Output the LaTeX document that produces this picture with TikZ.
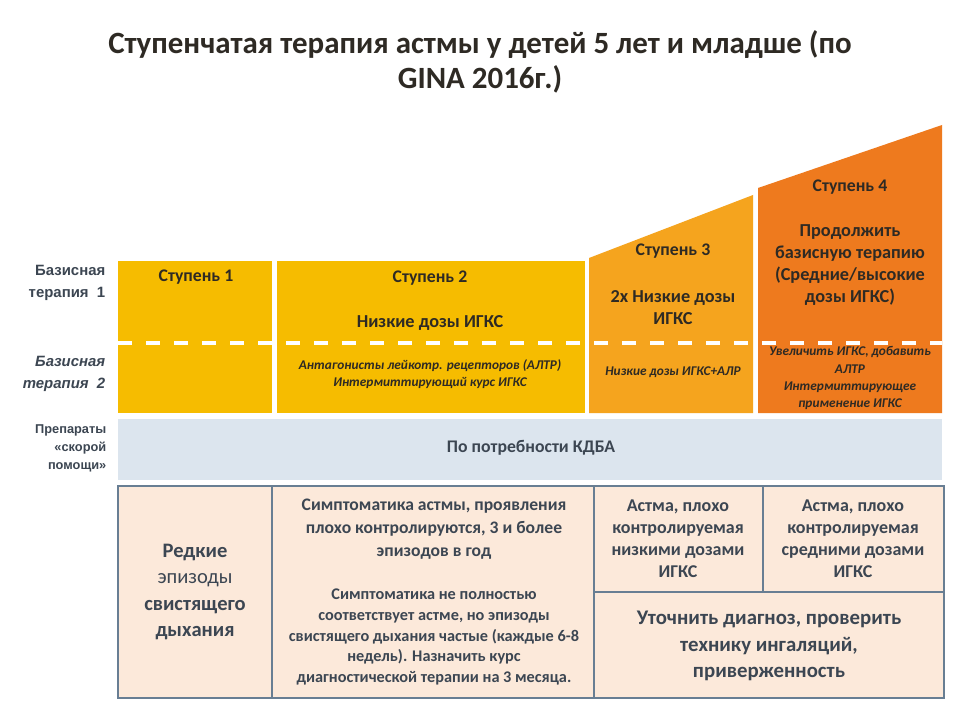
\documentclass[tikz,border=0pt]{standalone}
\usepackage{fontspec}
\setmainfont{Carlito}
\newfontfamily\sidefont{Liberation Sans}
\usetikzlibrary{positioning}

\definecolor{stepyellow}{HTML}{F6BC00}
\definecolor{steporange}{HTML}{F5A41E}
\definecolor{stepdark}{HTML}{EE7A1E}
\definecolor{bandblue}{HTML}{DCE5EE}
\definecolor{cellfill}{HTML}{FCE9DA}
\definecolor{framegray}{HTML}{687E93}
\definecolor{inktext}{HTML}{2E2A24}
\definecolor{slatetext}{HTML}{3C4652}

\begin{document}
\begin{tikzpicture}[
    x=0.75pt, y=-0.75pt,
    title/.style={font=\bfseries\fontsize{23.2}{26}\selectfont, text=inktext},
    sidelabel/.style={anchor=east, align=right, text=slatetext, font=\sidefont\bfseries\fontsize{11.2}{16.5}\selectfont},
    steplabel/.style={font=\bfseries\fontsize{13.3}{15}\selectfont, text=inktext},
    dose/.style={align=center, font=\bfseries\fontsize{13.7}{16.5}\selectfont, text=inktext},
    addon/.style={align=center, font=\bfseries\itshape\fontsize{10}{12.8}\selectfont, text=inktext},
    celltext/.style={align=center, text=slatetext, font=\bfseries\fontsize{13.2}{17.2}\selectfont},
    smalltext/.style={align=center, text=slatetext, font=\bfseries\fontsize{12.2}{15.7}\selectfont},
    dashline/.style={white, line width=3pt, dash pattern=on 10.5pt off 10.5pt},
    frame/.style={draw=framegray, line width=1.2pt},
]
\useasboundingbox (0,0) rectangle (960,720);
\fill[white] (0,0) rectangle (960,720);

% Title
\node[title] (title1) at (480,45) {Ступенчатая терапия астмы у детей 5 лет и младше (по};
\node[title] (title2) at (480,79) {GINA 2016г.)};

% Step blocks
\fill[stepyellow] (118,261) rectangle (272,413);
\fill[stepyellow] (277,261) rectangle (585,413);
\fill[steporange] (589,258) -- (753,195) -- (753,413) -- (589,413) -- cycle;
\fill[stepdark] (758,188) -- (942,125) -- (942,413) -- (758,413) -- cycle;
\draw[dashline] (118,343) -- (942,343);

% Reliever band
\fill[bandblue] (118,419) rectangle (942,480);
\node[text=slatetext, font=\bfseries\fontsize{13.3}{15}\selectfont] (reliever) at (531,448) {По потребности КДБА};

% Row labels
\node[sidelabel] (base1) at (110,283) {Базисная\\терапия \ 1};
\node[sidelabel, font=\sidefont\bfseries\itshape\fontsize{11.2}{16.5}\selectfont] (base2) at (110,374) {Базисная\\терапия \ 2};
\node[sidelabel, font=\sidefont\bfseries\fontsize{9.6}{13.5}\selectfont] (relief) at (111,448) {Препараты\\«скорой\\помощи»};

% Step 1
\node[steplabel] (step1) at (196,277) {Ступень 1};

% Step 2
\node[steplabel] (step2) at (430,278) {Ступень 2};
\node[dose] (dose2) at (430,323) {Низкие дозы ИГКС};
\node[addon] (add2) at (430,374) {Антагонисты лейкотр. рецепторов (АЛТР)\\Интермиттирующий курс ИГКС};

% Step 3
\node[steplabel] (step3) at (673,251) {Ступень 3};
\node[dose] (dose3) at (673,308) {2x Низкие дозы\\ИГКС};
\node[addon] (add3) at (673,372) {Низкие дозы ИГКС+АЛР};

% Step 4
\node[steplabel] (step4) at (850,187) {Ступень 4};
\node[dose] (dose4) at (850,265) {Продолжить\\базисную терапию\\(Средние/высокие\\дозы ИГКС)};
\node[addon] (add4) at (850,378) {Увеличить ИГКС, добавить\\АЛТР\\Интермиттирующее\\применение ИГКС};

% Bottom table
\fill[cellfill] (118,486) rectangle (944,698);
\draw[frame] (118,486) rectangle (944,698);
\draw[frame] (272,486) -- (272,698);
\draw[frame] (594,486) -- (594,698);
\draw[frame] (763,486) -- (763,592);
\draw[frame] (594,592) -- (944,592);

\node[celltext, font=\fontsize{15.4}{19.7}\selectfont] (rare) at (195,592) {\textbf{Редкие}\\эпизоды\\\textbf{свистящего}\\\textbf{дыхания}};
\node[celltext] (uncontrolled) at (434,529) {Симптоматика астмы, проявления\\плохо контролируются, 3 и более\\эпизодов в год};
\node[smalltext] (trial) at (434,637) {Симптоматика не полностью\\соответствует астме, но эпизоды\\свистящего дыхания частые (каждые 6-8\\недель). Назначить курс\\диагностической терапии на 3 месяца.};
\node[celltext, font=\bfseries\fontsize{13.5}{16.5}\selectfont] (lowctrl) at (678,539) {Астма, плохо\\контролируемая\\низкими дозами\\ИГКС};
\node[celltext, font=\bfseries\fontsize{13.5}{16.5}\selectfont] (midctrl) at (853,539) {Астма, плохо\\контролируемая\\средними дозами\\ИГКС};
\node[celltext, font=\bfseries\fontsize{15.6}{20}\selectfont] (check) at (769,646) {Уточнить диагноз, проверить\\технику ингаляций,\\приверженность};
\end{tikzpicture}
\end{document}
